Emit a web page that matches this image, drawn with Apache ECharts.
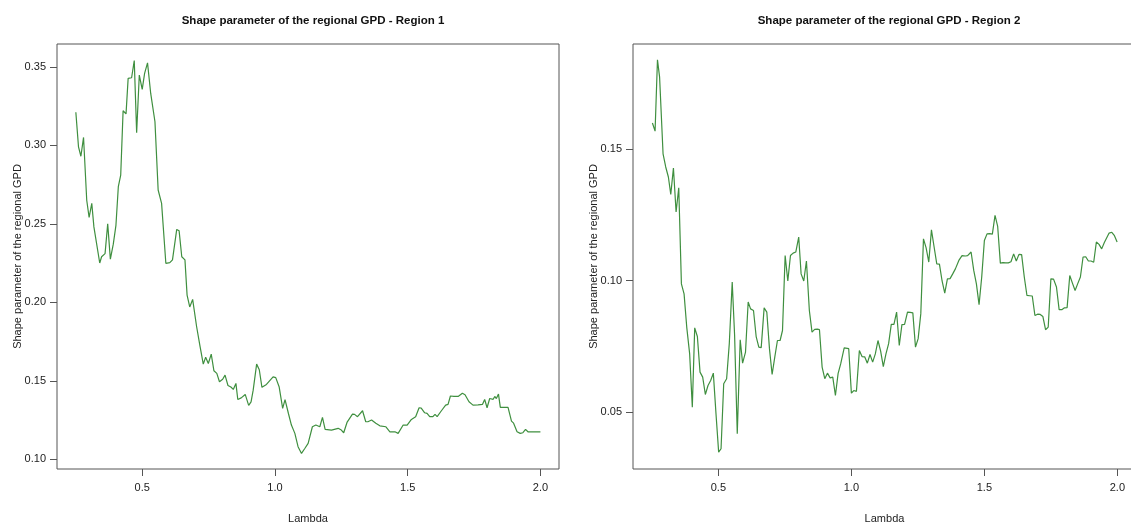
<!DOCTYPE html>
<html>
<head>
<meta charset="utf-8">
<script src="https://cdn.jsdelivr.net/npm/echarts@6/dist/echarts.min.js"></script>
<style>html,body{margin:0;padding:0;background:#fff;}#c{width:1131px;height:525px;}</style>
</head>
<body>
<div id="c"></div>
<script>
const titles = ['Shape parameter of the regional GPD - Region 1', 'Shape parameter of the regional GPD - Region 2'];
const xName = 'Lambda';
const yName = 'Shape parameter of the regional GPD';
const xTicks = [0.5, 1.0, 1.5, 2.0];
const yTicks1 = [0.10, 0.15, 0.20, 0.25, 0.30, 0.35];
const yTicks2 = [0.05, 0.10, 0.15];

const lambda1 = [0.250,0.260,0.269,0.279,0.291,0.300,0.310,0.318,0.340,0.347,0.360,0.370,0.380,0.391,0.401,0.410,0.419,0.428,0.439,0.447,0.460,0.470,0.479,0.489,0.500,0.509,0.520,0.532,0.548,0.560,0.573,0.589,0.604,0.614,0.630,0.639,0.649,0.661,0.669,0.679,0.690,0.705,0.718,0.730,0.739,0.749,0.760,0.770,0.781,0.791,0.803,0.812,0.823,0.834,0.843,0.853,0.860,0.873,0.888,0.901,0.910,0.918,0.931,0.941,0.951,0.968,0.993,1.003,1.016,1.029,1.038,1.051,1.062,1.075,1.087,1.100,1.113,1.125,1.132,1.141,1.154,1.169,1.179,1.189,1.213,1.238,1.250,1.259,1.272,1.279,1.292,1.300,1.311,1.330,1.342,1.350,1.364,1.380,1.395,1.418,1.433,1.452,1.464,1.483,1.498,1.514,1.530,1.543,1.551,1.564,1.573,1.583,1.595,1.603,1.611,1.627,1.643,1.652,1.661,1.674,1.690,1.706,1.716,1.731,1.746,1.765,1.782,1.790,1.799,1.809,1.822,1.828,1.834,1.842,1.849,1.878,1.891,1.899,1.912,1.924,1.934,1.944,1.953,2.000];
const shape1 = [0.321,0.299,0.293,0.305,0.265,0.254,0.263,0.248,0.225,0.229,0.231,0.250,0.2275,0.237,0.249,0.2736,0.281,0.322,0.320,0.3426,0.343,0.354,0.308,0.3447,0.3356,0.3458,0.3525,0.333,0.315,0.2715,0.263,0.2248,0.2252,0.227,0.2464,0.2455,0.229,0.227,0.2046,0.197,0.2018,0.1844,0.1717,0.1606,0.165,0.161,0.167,0.1564,0.1547,0.1494,0.151,0.1536,0.147,0.146,0.1445,0.1483,0.1381,0.1391,0.1413,0.1343,0.1366,0.144,0.1606,0.157,0.1458,0.1477,0.1525,0.152,0.146,0.1324,0.138,0.129,0.1218,0.1165,0.108,0.1037,0.107,0.1101,0.1105,0.1207,0.1218,0.1207,0.1267,0.1190,0.1186,0.1197,0.1186,0.1169,0.1237,0.1228,0.1288,0.1286,0.1271,0.1309,0.1239,0.1239,0.125,0.1229,0.1213,0.1207,0.1175,0.1175,0.1165,0.1218,0.1218,0.1254,0.1271,0.1328,0.1326,0.1296,0.1292,0.1271,0.1271,0.1286,0.1271,0.1309,0.1345,0.1350,0.1403,0.1400,0.1400,0.142,0.1411,0.1366,0.1345,0.1346,0.1350,0.1381,0.1328,0.1387,0.1382,0.140,0.1387,0.1415,0.133,0.133,0.1243,0.123,0.1175,0.1165,0.1169,0.119,0.1175,0.1175];

const lambda2 = [0.252,0.262,0.271,0.279,0.292,0.302,0.312,0.321,0.331,0.341,0.351,0.361,0.371,0.381,0.392,0.402,0.411,0.421,0.431,0.441,0.451,0.461,0.471,0.481,0.491,0.501,0.510,0.520,0.531,0.541,0.552,0.561,0.571,0.582,0.591,0.602,0.612,0.621,0.632,0.642,0.652,0.661,0.672,0.682,0.692,0.702,0.712,0.722,0.732,0.741,0.751,0.761,0.771,0.781,0.791,0.802,0.811,0.821,0.831,0.842,0.852,0.862,0.872,0.880,0.890,0.900,0.910,0.920,0.930,0.940,0.950,0.960,0.973,0.980,0.990,1.000,1.009,1.019,1.030,1.040,1.050,1.060,1.070,1.080,1.090,1.100,1.110,1.120,1.130,1.140,1.150,1.160,1.170,1.180,1.190,1.200,1.211,1.221,1.231,1.241,1.251,1.261,1.271,1.281,1.291,1.301,1.311,1.321,1.331,1.341,1.351,1.361,1.371,1.381,1.391,1.404,1.416,1.429,1.437,1.450,1.460,1.470,1.480,1.490,1.500,1.510,1.520,1.530,1.540,1.550,1.560,1.570,1.580,1.590,1.600,1.610,1.620,1.630,1.640,1.650,1.660,1.670,1.680,1.690,1.700,1.710,1.720,1.730,1.740,1.750,1.760,1.771,1.781,1.791,1.801,1.811,1.821,1.831,1.841,1.851,1.861,1.871,1.881,1.891,1.901,1.911,1.921,1.931,1.941,1.951,1.958,1.969,1.979,1.989,1.999];
const shape2 = [0.1599,0.1568,0.1839,0.1773,0.1482,0.1432,0.1394,0.1328,0.1428,0.1261,0.1353,0.0988,0.0950,0.0824,0.0722,0.0520,0.0821,0.0788,0.0653,0.0634,0.0568,0.0602,0.0621,0.0649,0.0495,0.0349,0.0362,0.0609,0.0628,0.0761,0.0995,0.0792,0.0419,0.0776,0.0687,0.0729,0.0919,0.0893,0.0887,0.0788,0.0748,0.0746,0.0897,0.0881,0.0742,0.0644,0.0710,0.0773,0.0773,0.0811,0.1096,0.0999,0.1096,0.1105,0.1109,0.1166,0.1026,0.0999,0.1075,0.0887,0.0805,0.0815,0.0816,0.0814,0.0672,0.0628,0.0649,0.0631,0.0634,0.0564,0.0647,0.0685,0.0745,0.0746,0.0742,0.0573,0.0583,0.0580,0.0735,0.0712,0.0711,0.0687,0.0720,0.0691,0.0722,0.0773,0.0733,0.0674,0.0722,0.0761,0.0834,0.0834,0.0881,0.0754,0.0833,0.0834,0.0881,0.0880,0.0878,0.0748,0.0780,0.0875,0.1159,0.1125,0.1071,0.1193,0.1128,0.1064,0.1063,0.0999,0.0953,0.1007,0.1008,0.1026,0.1045,0.1077,0.1095,0.1094,0.1095,0.1109,0.1039,0.0988,0.0909,0.1014,0.1153,0.1178,0.1179,0.1177,0.1248,0.1206,0.1067,0.1069,0.1068,0.1068,0.1072,0.1102,0.1075,0.1100,0.1099,0.1014,0.0944,0.0943,0.0942,0.0868,0.0873,0.0872,0.0864,0.0814,0.0824,0.1007,0.1006,0.0976,0.0890,0.0890,0.0897,0.0898,0.1020,0.0991,0.0963,0.0989,0.1014,0.1090,0.1091,0.1075,0.1075,0.1070,0.1147,0.1138,0.1121,0.1145,0.1139,0.1181,0.1184,0.1171,0.1147];

const FONT = '"Liberation Sans", Arial, Helvetica, sans-serif';
const TXT = '#222';
const BOX = '#555';
const LINE = '#3f8f3f';

function xAxisCfg(i){
  return {
    type: 'value', gridIndex: i, min: 0.179, max: 2.07,
    name: xName, nameLocation: 'middle', nameGap: 44, nameMoveOverlap: false,
    nameTextStyle: {fontFamily: FONT, fontSize: 11, color: TXT},
    axisLine: {show: false},
    axisTick: {show: true, length: 7, customValues: xTicks, lineStyle: {color: BOX}},
    axisLabel: {customValues: xTicks, margin: 13, fontFamily: FONT, fontSize: 11, color: TXT,
      formatter: v => v.toFixed(1)},
    splitLine: {show: false}
  };
}
function yAxisCfg(i, min, max, ticks){
  return {
    type: 'value', gridIndex: i, min: min, max: max,
    name: yName, nameLocation: 'middle', nameGap: 34, nameRotate: 90, nameMoveOverlap: false,
    nameTextStyle: {fontFamily: FONT, fontSize: 11, color: TXT},
    axisLine: {show: false},
    axisTick: {show: true, length: 7, customValues: ticks, lineStyle: {color: BOX}},
    axisLabel: {customValues: ticks, margin: 11, fontFamily: FONT, fontSize: 11, color: TXT,
      formatter: v => v.toFixed(2)},
    splitLine: {show: false}
  };
}

const chart = echarts.init(document.getElementById('c'), null, {renderer: 'canvas'});
chart.setOption({
  backgroundColor: '#fff',
  animation: false,
  title: [
    {text: titles[0], left: 308, top: 10, textAlign: 'center',
     textStyle: {fontFamily: FONT, fontSize: 11.5, fontWeight: 'bold', color: '#111'}},
    {text: titles[1], left: 884, top: 10, textAlign: 'center',
     textStyle: {fontFamily: FONT, fontSize: 11.5, fontWeight: 'bold', color: '#111'}}
  ],
  grid: [
    {left: 57, top: 44, width: 502, height: 425, show: true, borderColor: BOX, borderWidth: 1,
     backgroundColor: 'transparent', outerBoundsMode: 'none', containLabel: false},
    {left: 633, top: 44, width: 503, height: 425, show: true, borderColor: BOX, borderWidth: 1,
     backgroundColor: 'transparent', outerBoundsMode: 'none', containLabel: false}
  ],
  xAxis: [xAxisCfg(0), xAxisCfg(1)],
  yAxis: [yAxisCfg(0, 0.0938, 0.3645, yTicks1), yAxisCfg(1, 0.0285, 0.1899, yTicks2)],
  series: [
    {type: 'line', xAxisIndex: 0, yAxisIndex: 0, showSymbol: false, symbol: 'none',
     lineStyle: {color: LINE, width: 1.2}, data: lambda1.map((x, k) => [x, shape1[k]])},
    {type: 'line', xAxisIndex: 1, yAxisIndex: 1, showSymbol: false, symbol: 'none',
     lineStyle: {color: LINE, width: 1.2}, data: lambda2.map((x, k) => [x, shape2[k]])}
  ]
});
</script>
</body>
</html>
